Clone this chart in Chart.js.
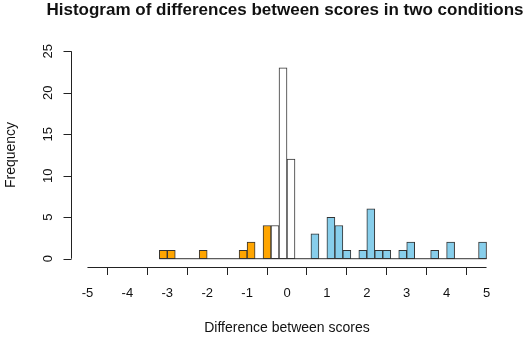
<!DOCTYPE html>
<html>
<head>
<meta charset="utf-8">
<script src="https://cdn.jsdelivr.net/npm/chart.js@4/dist/chart.umd.min.js"></script>
<style>
  body { margin: 0; background: #fff; }
  #wrap { width: 532px; height: 339px; }
</style>
</head>
<body>
<div id="wrap"><canvas id="histChart" width="532" height="339"></canvas></div>
<script>
// bin centres (width 0.2) and frequencies
var binCenters = [-3.1, -2.9, -2.7, -2.5, -2.3, -2.1, -1.9, -1.7, -1.5, -1.3,
                  -1.1, -0.9, -0.7, -0.5, -0.3, -0.1, 0.1, 0.3, 0.5, 0.7,
                  0.9, 1.1, 1.3, 1.5, 1.7, 1.9, 2.1, 2.3, 2.5, 2.7,
                  2.9, 3.1, 3.3, 3.5, 3.7, 3.9, 4.1, 4.3, 4.5, 4.7, 4.9];
var counts = [1, 1, 0, 0, 0, 1, 0, 0, 0, 0,
              1, 2, 0, 4, 4, 23, 12, 0, 0, 3,
              0, 5, 4, 1, 0, 1, 6, 1, 1, 0,
              1, 2, 0, 0, 1, 0, 2, 0, 0, 0, 2];
var binWidth = 0.2;
var lowerCut = -0.4;   // bins below this are "worse" (orange)
var upperCut = 0.2;    // bins above this are "better" (blue)
var xTicks = [-5, -4, -3, -2, -1, 0, 1, 2, 3, 4, 5];
var yTicks = [0, 5, 10, 15, 20, 25];
var mainTitle = "Histogram of differences between scores in two conditions";

var FONT = "'Liberation Sans', Arial, sans-serif";
var INK = "#111";

var barColors = binCenters.map(function (c) {
	if (c < lowerCut) return "#FFA500";
	if (c > upperCut) return "#87CEEB";
	return "#ffffff";
});

var histData = binCenters.map(function (c, i) { return {x: c, y: counts[i]}; });
var baseData = [
	{x: binCenters[0] - binWidth / 2, y: 0},
	{x: binCenters[binCenters.length - 1] + binWidth / 2, y: 0}
];

// R style axes: detached lines, rotated y labels, main title
var rAxes = {
	id: "rAxes",
	afterDraw: function (chart) {
		var ctx = chart.ctx, xs = chart.scales.x, ys = chart.scales.y;
		var area = chart.chartArea;
		ctx.save();
		ctx.strokeStyle = "#222";
		ctx.lineWidth = 1;
		// x axis line
		var yLine = Math.round(area.bottom) + 0.5;
		ctx.beginPath();
		ctx.moveTo(xs.getPixelForValue(xTicks[0]), yLine);
		ctx.lineTo(xs.getPixelForValue(xTicks[xTicks.length - 1]), yLine);
		ctx.stroke();
		// y axis line + ticks
		var xLine = Math.round(area.left) - 0.5;
		ctx.beginPath();
		ctx.moveTo(xLine, ys.getPixelForValue(yTicks[0]));
		ctx.lineTo(xLine, ys.getPixelForValue(yTicks[yTicks.length - 1]));
		yTicks.forEach(function (v) {
			var py = Math.round(ys.getPixelForValue(v)) + 0.5;
			ctx.moveTo(xLine, py);
			ctx.lineTo(xLine - 8, py);
		});
		ctx.stroke();
		ctx.fillStyle = INK;
		ctx.font = "13px " + FONT;
		ctx.textAlign = "center";
		ctx.textBaseline = "middle";
		yTicks.forEach(function (v) {
			ctx.save();
			ctx.translate(48, ys.getPixelForValue(v));
			ctx.rotate(-Math.PI / 2);
			ctx.fillText(String(v), 0, 0);
			ctx.restore();
		});
		// main title
		ctx.font = "bold 17px " + FONT;
		ctx.textBaseline = "alphabetic";
		ctx.fillText(mainTitle, 285, 15);
		ctx.restore();
	}
};

new Chart(document.getElementById("histChart"), {
	type: "bar",
	data: {
		datasets: [
			{
				type: "bar",
				data: histData,
				backgroundColor: barColors,
				borderColor: "#333",
				borderWidth: 1,
				borderSkipped: false,
				categoryPercentage: 1,
				barPercentage: 1,
				order: 1
			},
			{
				type: "line",
				data: baseData,
				borderColor: "#333",
				borderWidth: 1,
				pointRadius: 0,
				fill: false,
				order: 2
			}
		]
	},
	options: {
		responsive: false,
		animation: false,
		layout: { padding: { left: 0, right: 29.5, top: 43, bottom: 0 } },
		plugins: {
			legend: { display: false },
			tooltip: { enabled: false },
			title: { display: false }
		},
		scales: {
			x: {
				type: "linear",
				min: -5.4,
				max: 5.4,
				offset: false,
				afterBuildTicks: function (s) { s.ticks = xTicks.map(function (v) { return {value: v}; }); },
				afterFit: function (s) { s.height = 72; },
				grid: { display: true, drawOnChartArea: false, drawTicks: true, tickLength: 8, color: "#222" },
				border: { display: false },
				ticks: { color: INK, font: { family: FONT, size: 13 }, padding: 11, autoSkip: false, maxRotation: 0 },
				title: {
					display: true,
					text: "Difference between scores",
					color: INK,
					font: { family: FONT, size: 14 },
					padding: { top: 0, bottom: 2.5 }
				}
			},
			y: {
				min: -1,
				max: 26,
				afterFit: function (s) { s.width = 71.5; },
				grid: { display: false },
				border: { display: false },
				ticks: { display: false },
				title: {
					display: true,
					text: "Frequency",
					color: INK,
					font: { family: FONT, size: 14 },
					padding: { top: 3.1, bottom: 0 }
				}
			}
		}
	},
	plugins: [rAxes]
});
</script>
</body>
</html>
